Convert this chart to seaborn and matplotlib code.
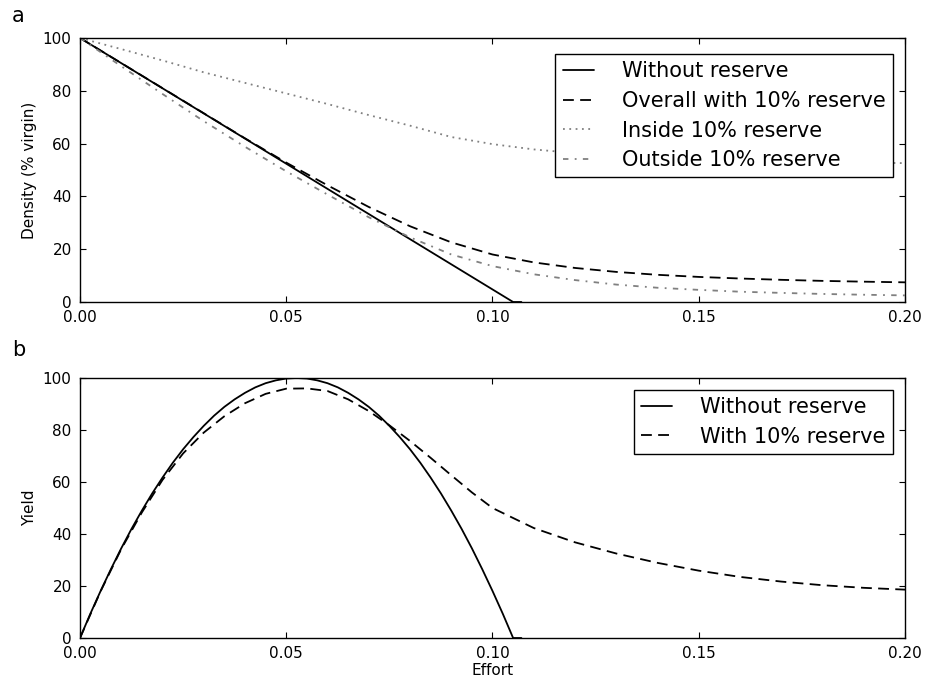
import numpy as np
import matplotlib
matplotlib.use("Agg")
import matplotlib.pyplot as plt
import pandas as pd
import seaborn as sns

# ---- data ----
# panel a, no reserve: straight decline to zero
effort_density_without = [0.000, 0.105, 0.107]
density_without = [100, 0, 0]

effort_reserve = [0.00, 0.01, 0.02, 0.03, 0.04, 0.05, 0.06, 0.07, 0.08, 0.09, 0.10,
                  0.11, 0.12, 0.13, 0.14, 0.15, 0.16, 0.17, 0.18, 0.19, 0.20]
density_overall = [100, 90.5, 81.0, 71.5, 62.0, 52.8, 44.2, 36.0, 28.7, 22.6, 18.0,
                   15.0, 12.9, 11.4, 10.3, 9.5, 8.9, 8.4, 8.0, 7.7, 7.45]
density_inside = [100, 95.8, 91.5, 87.0, 83.0, 79.0, 75.0, 70.8, 66.8, 62.5, 59.8,
                  57.8, 56.4, 55.4, 54.6, 54.0, 53.6, 53.3, 53.0, 52.8, 52.6]
density_outside = [100, 89.3, 78.8, 68.5, 58.8, 49.5, 40.7, 32.1, 24.5, 18.0, 13.6,
                   10.5, 8.3, 6.6, 5.4, 4.6, 3.9, 3.45, 3.05, 2.75, 2.5]

# panel b
effort_yield_without = [0.0000, 0.0025, 0.0050, 0.0075, 0.0100, 0.0125, 0.0150, 0.0175,
                        0.0200, 0.0225, 0.0250, 0.0275, 0.0300, 0.0325, 0.0350, 0.0375,
                        0.0400, 0.0425, 0.0450, 0.0475, 0.0500, 0.0525, 0.0550, 0.0575,
                        0.0600, 0.0625, 0.0650, 0.0675, 0.0700, 0.0725, 0.0750, 0.0775,
                        0.0800, 0.0825, 0.0850, 0.0875, 0.0900, 0.0925, 0.0950, 0.0975,
                        0.1000, 0.1025, 0.1050, 0.1070]
yield_without = [0, 9.3, 18.1, 26.5, 34.5, 42.0, 49.0, 55.6,
                 61.7, 67.4, 72.6, 77.3, 81.6, 85.5, 88.9, 91.8,
                 94.3, 96.4, 98.0, 99.1, 99.8, 100.0, 99.8, 99.1,
                 98.0, 96.4, 94.3, 91.8, 88.9, 85.5, 81.6, 77.3,
                 72.6, 67.4, 61.7, 55.6, 49.0, 42.0, 34.5, 26.5,
                 18.1, 9.3, 0, 0]

effort_yield_reserve = [0.000, 0.005, 0.010, 0.015, 0.020, 0.025, 0.030, 0.035, 0.040, 0.045, 0.050,
                        0.055, 0.060, 0.065, 0.070, 0.075, 0.080, 0.085, 0.090, 0.095, 0.100,
                        0.11, 0.12, 0.13, 0.14, 0.15, 0.16, 0.17, 0.18, 0.19, 0.20]
yield_reserve = [0, 18.0, 34.2, 48.3, 60.8, 71.0, 79.0, 85.3, 90.3, 93.9, 95.9,
                 96.0, 95.0, 91.8, 87.3, 81.8, 75.8, 69.3, 62.6, 56.0, 50.0,
                 42.3, 36.8, 32.5, 28.9, 25.9, 23.5, 21.7, 20.3, 19.3, 18.6]

xticks = [0.00, 0.05, 0.10, 0.15, 0.20]
yticks = [0, 20, 40, 60, 80, 100]

####figure settings####
sns.set_theme(style="white", rc={
    "axes.edgecolor": "black",
    "axes.linewidth": 1.0,
    "xtick.direction": "in",
    "ytick.direction": "in",
    "xtick.top": True,
    "ytick.right": True,
    "xtick.bottom": True,
    "ytick.left": True,
    "xtick.major.size": 4,
    "ytick.major.size": 4,
    "xtick.major.width": 0.8,
    "ytick.major.width": 0.8,
    "xtick.major.pad": 6,
    "ytick.major.pad": 6,
    "xtick.color": "black",
    "ytick.color": "black",
    "xtick.labelsize": 11,
    "ytick.labelsize": 11,
    "axes.labelsize": 11,
    "axes.labelcolor": "black",
    "text.color": "black",
})
plt.rcParams["font.family"] = ["DejaVu Sans"]

fig = plt.figure(figsize=(9.26, 6.8), dpi=100)
ax1 = fig.add_axes([80/926, 1-302/680, 825/926, 264/680])
ax2 = fig.add_axes([80/926, 1-638/680, 825/926, 260/680])

lw = 1.3
grey = "0.5"

sns.lineplot(x=effort_density_without, y=density_without, ax=ax1, color="black", lw=lw,
             label="Without reserve")
sns.lineplot(x=effort_reserve, y=density_overall, ax=ax1, color="black", lw=lw,
             dashes=(6, 3.5), label="Overall with 10% reserve")
sns.lineplot(x=effort_reserve, y=density_inside, ax=ax1, color=grey, lw=lw,
             dashes=(1, 2.5), label="Inside 10% reserve")
sns.lineplot(x=effort_reserve, y=density_outside, ax=ax1, color=grey, lw=lw,
             dashes=(3, 3.5, 1, 3.5), label="Outside 10% reserve")

sns.lineplot(x=effort_yield_without, y=yield_without, ax=ax2, color="black", lw=lw,
             label="Without reserve")
sns.lineplot(x=effort_yield_reserve, y=yield_reserve, ax=ax2, color="black", lw=lw,
             dashes=(6, 3.5), label="With 10% reserve")

legend_anchor = {ax1: (0.9855, 0.939), ax2: (0.9855, 0.955)}
for ax in (ax1, ax2):
    ax.set_xlim(0, 0.20)
    ax.set_ylim(0, 100)
    ax.set_xticks(xticks)
    ax.set_xticklabels(["%.2f" % t for t in xticks])
    ax.set_yticks(yticks)
    for sp in ax.spines.values():
        sp.set_visible(True)
        sp.set_color("black")
    leg = ax.legend(loc="upper right", bbox_to_anchor=legend_anchor[ax], borderaxespad=0,
                    fontsize=15, frameon=True, fancybox=False, framealpha=1,
                    edgecolor="black", handlelength=1.5, handletextpad=1.35,
                    labelspacing=0.46, borderpad=0.35)
    leg.get_frame().set_linewidth(1.0)

ax1.set_xlabel("")
ax1.set_ylabel("Density (% virgin)")
ax2.set_xlabel("Effort", labelpad=1)
ax2.set_ylabel("Yield")

fig.text(12/926, 1-22/680, "a", fontsize=15, va="baseline")
fig.text(12/926, 1-356/680, "b", fontsize=15, va="baseline")

plt.savefig("out.png", dpi=100)
